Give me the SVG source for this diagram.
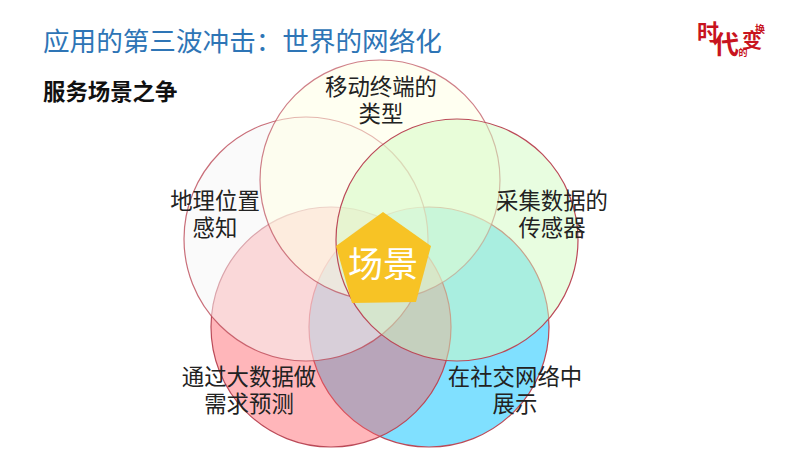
<svg xmlns="http://www.w3.org/2000/svg" width="801" height="452" viewBox="0 0 801 452">
<style>
text{font-family:"Noto Sans CJK SC","Liberation Sans",sans-serif}
.c{stroke:#bb4a58;stroke-width:1.2}
.l{font-size:22.4px;fill:#222;text-anchor:middle}
.g{font-weight:700;fill:#c8141e;text-anchor:middle}
</style>
<rect width="801" height="452" fill="#fff"/>
<text id="title" x="43" y="51" font-size="26.6" fill="#2e75b6">应用的第三波冲击：世界的网络化</text>
<text id="subtitle" x="43" y="100" font-size="22.4" font-weight="700" fill="#111">服务场景之争</text>
<g id="logo">
<text class="g" x="708" y="40" font-size="22">时</text>
<text class="g" x="726" y="54" font-size="26">代</text>
<text class="g" x="743" y="56" font-size="9">的</text>
<text class="g" x="752" y="48" font-size="20">变</text>
<text class="g" x="760" y="33" font-size="10">换</text>
</g>
<g id="connectors"></g>
<g id="node-social">
<circle class="c" cx="429" cy="327" r="120" fill="#80e0ff"/>
<text class="l" x="515" y="385">在社交网络中</text>
<text class="l" x="515" y="412">展示</text>
</g>
<g id="node-bigdata">
<circle class="c" cx="331" cy="327" r="120" fill="#ff5962" fill-opacity=".44"/>
<text class="l" x="249" y="385">通过大数据做</text>
<text class="l" x="249" y="412">需求预测</text>
</g>
<g id="node-geo">
<circle class="c" cx="306" cy="239" r="122" fill="#f6f6f6" fill-opacity=".53" stroke-opacity=".8"/>
<text class="l" x="215" y="209">地理位置</text>
<text class="l" x="215" y="236">感知</text>
</g>
<g id="node-device">
<circle class="c" cx="380" cy="180" r="120" fill="#ffffe4" fill-opacity=".5" stroke-opacity=".7"/>
<text class="l" x="381" y="95">移动终端的</text>
<text class="l" x="381" y="122">类型</text>
</g>
<g id="node-sensor">
<circle class="c" cx="457" cy="240" r="121" fill="#d1fbc1" fill-opacity=".5"/>
<text class="l" x="552" y="209">采集数据的</text>
<text class="l" x="552" y="236">传感器</text>
</g>
<g id="node-scene">
<polygon points="383,212 431,246 416,302 352,303 336,246" fill="#f7c325"/>
<text x="383" y="277" font-size="35" fill="#fff" text-anchor="middle">场景</text>
</g>
</svg>
